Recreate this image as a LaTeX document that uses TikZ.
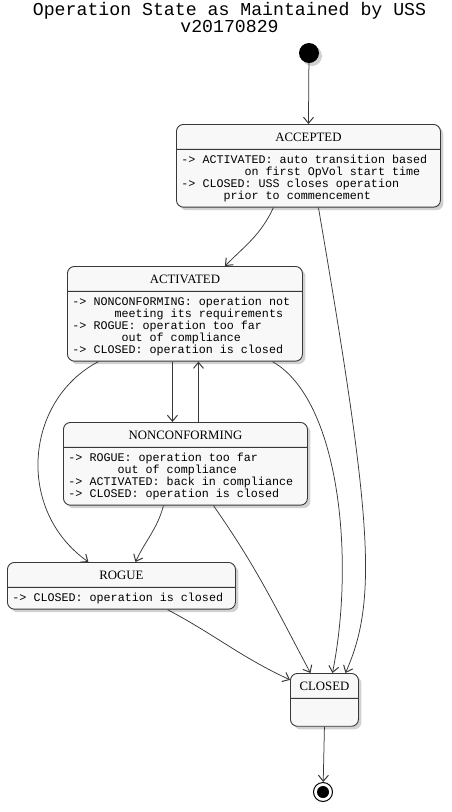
\documentclass[tikz,border=0pt]{standalone}
\usepackage{fontspec}
\usetikzlibrary{shapes,positioning,calc,arrows.meta,shadows}
\newfontfamily\codefont{Liberation Mono}
\newfontfamily\statefont{Liberation Serif}
\definecolor{statefill}{HTML}{F8F8F8}
\definecolor{umlline}{HTML}{383838}
\newcommand{\ind}[1]{\hspace*{\dimexpr 0.6em*#1\relax}}
\newcommand{\stname}[1]{{\statefont\fontsize{12.8}{14}\selectfont\rule[-2.2pt]{0pt}{14pt}#1}}

\begin{document}
\begin{tikzpicture}[x=1pt,y=-1pt,
  state/.style={rectangle split, rectangle split parts=2, rectangle split part align={center,left}, draw=umlline, line width=0.9pt, fill=statefill, align=left, inner xsep=5pt, inner ysep=5pt, anchor=north west, rounded corners=7pt, drop shadow={shadow xshift=3pt,shadow yshift=-3pt,opacity=0.3,fill=black!60}, font=\codefont\fontsize{11.7}{12}\selectfont},
  trans/.style={-{Straight Barb[length=6pt,width=10pt,line width=1pt]}, draw=umlline, line width=0.75pt}]

\useasboundingbox (0,0) rectangle (451,812);

% TITLE

\node [font=\codefont\fontsize{18.2}{17}\selectfont, align=center, inner sep=0pt, anchor=north] (title) at (229.5,2) {Operation State as Maintained by USS\\v20170829};

% STATES

\node [circle, fill=black, minimum size=20pt, inner sep=0pt, drop shadow={shadow xshift=3pt,shadow yshift=-3pt,opacity=0.3,fill=black!60}] (start) at (309,53) {};

\node [state, minimum width=264pt] (accepted) at (176,124)
{\stname{ACCEPTED}%
\nodepart{two} -> ACTIVATED: auto transition based\\
\ind{9}on first OpVol start time\\
-> CLOSED: USS closes operation\\
\ind{6}prior to commencement
};

\node [state, minimum width=235pt] (activated) at (67,266)
{\stname{ACTIVATED}%
\nodepart{two} -> NONCONFORMING: operation not\\
\ind{6}meeting its requirements\\
-> ROGUE: operation too far\\
\ind{7}out of compliance\\
-> CLOSED: operation is closed
};

\node [state, minimum width=244pt] (nonconforming) at (63,422)
{\stname{NONCONFORMING}%
\nodepart{two} -> ROGUE: operation too far\\
\ind{7}out of compliance\\
-> ACTIVATED: back in compliance\\
-> CLOSED: operation is closed
};

\node [state, minimum width=228pt] (rogue) at (7,562)
{\stname{ROGUE}%
\nodepart{two} -> CLOSED: operation is closed
};

\node [state, minimum width=68pt] (closed) at (290,673)
{\stname{CLOSED}%
\nodepart{two} \rule{0pt}{17pt}
};

\node [circle, draw=black, line width=1pt, fill=white, minimum size=19pt, inner sep=0pt, path picture={\fill[black] (path picture bounding box.center) circle (6pt);}] (end) at (323,792) {};

% TRANSITIONS

\draw [trans] (start) -- (accepted.north);
\draw [trans] ([xshift=-35pt]accepted.south) to[out=-115,in=45] ([xshift=40pt]activated.north);
\draw [trans] ([xshift=10pt]accepted.south) .. controls (372,520) and (378,600) .. ([xshift=21pt]closed.north);
\draw [trans] ([xshift=-12.5pt]activated.south) -- ([xshift=-13pt]nonconforming.north);
\draw [trans] ([xshift=13pt]nonconforming.north) -- ([xshift=13.5pt]activated.south);
\draw [trans] ([xshift=-86.5pt]activated.south) .. controls (25,400) and (15,510) .. ([xshift=-33pt]rogue.north);
\draw [trans] ([xshift=87.5pt]activated.south) .. controls (340,400) and (355,560) .. ([xshift=8pt]closed.north);
\draw [trans] ([xshift=-22pt]nonconforming.south) to[out=-105,in=65] ([xshift=14pt]rogue.north);
\draw [trans] ([xshift=28pt]nonconforming.south) to[out=-55,in=118] ([xshift=-14pt]closed.north);
\draw [trans] ([xshift=46pt]rogue.south) to[out=-28,in=155] ([yshift=20pt]closed.west);
\draw [trans] (closed.south) -- (end);

\end{tikzpicture}
\end{document}
